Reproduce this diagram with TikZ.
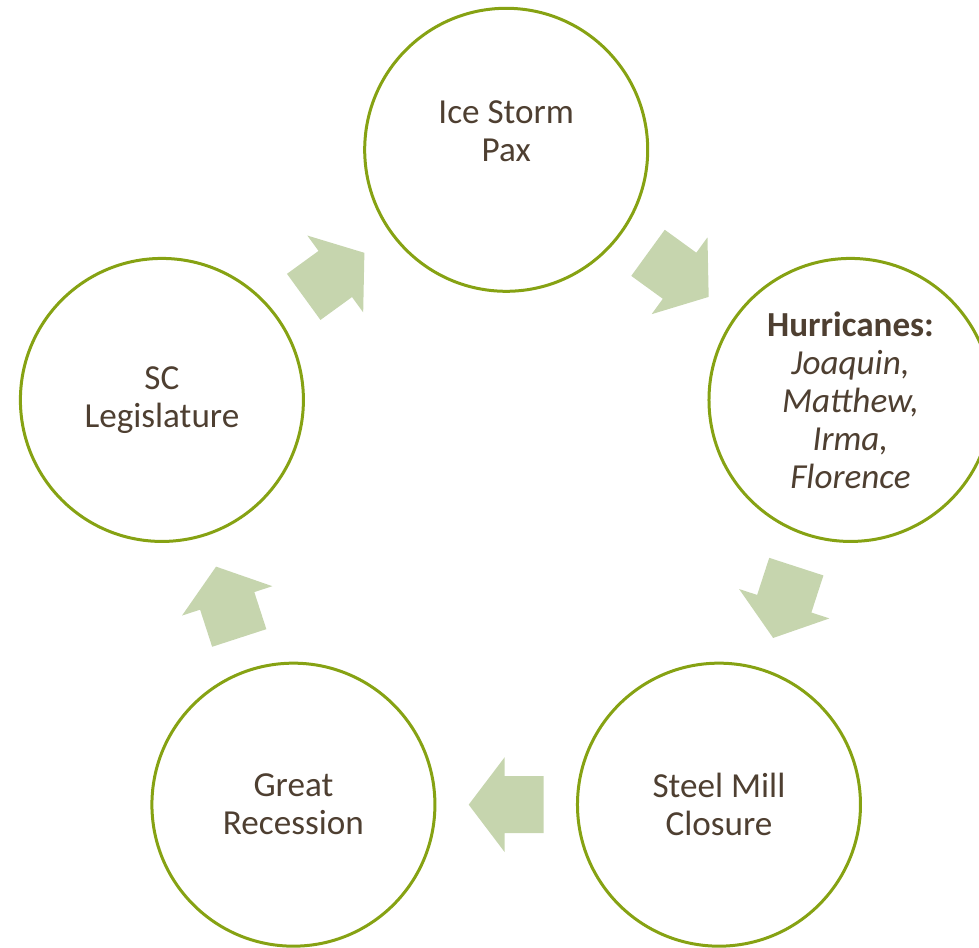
\documentclass[tikz,border=0pt]{standalone}
\usepackage{fontspec}
\setmainfont{Carlito}
\usepackage{xcolor}
\usetikzlibrary{calc}

\definecolor{ringgreen}{HTML}{86A213}
\definecolor{arrowgreen}{HTML}{C6D5AE}
\definecolor{textbrown}{HTML}{4E3F31}

\begin{document}
\begin{tikzpicture}[thick,
    main node/.style={circle,draw=ringgreen,line width=0.06cm,minimum size=5.66cm,inner sep=0pt,align=center,text=textbrown,font=\fontsize{20}{21.6}\selectfont},
    cyclearrow/.pic={\fill[arrowgreen] (-0.75,-0.57) -- (0.03,-0.57) -- (0.03,-0.95) -- (0.75,0) -- (0.03,0.95) -- (0.03,0.57) -- (-0.75,0.57) -- cycle;}]
    \useasboundingbox (-10.124,-8.704) rectangle (9.456,10.236);

    \node[main node] (ice) at (90:7.24) {Ice Storm\\Pax\\~};
    \node[main node] (hur) at (18:7.24) {\textbf{Hurricanes:}\\\textit{Joaquin,}\\\textit{Matthew,}\\\textit{Irma,}\\\textit{Florence}};
    \node[main node] (steel) at (-54:7.24) {Steel Mill\\Closure};
    \node[main node] (rec) at (-126:7.24) {Great\\Recession};
    \node[main node] (leg) at (162:7.24) {SC\\Legislature};

    % block arrows between the circles
    \path ($(ice)!0.5!(hur)$) pic[rotate=-36] {cyclearrow};
    \path ($(hur)!0.5!(steel)$) pic[rotate=-108] {cyclearrow};
    \path ($(steel)!0.5!(rec)$) pic[rotate=180] {cyclearrow};
    \path ($(rec)!0.5!(leg)$) pic[rotate=108] {cyclearrow};
    \path ($(leg)!0.5!(ice)$) pic[rotate=36] {cyclearrow};
\end{tikzpicture}
\end{document}
